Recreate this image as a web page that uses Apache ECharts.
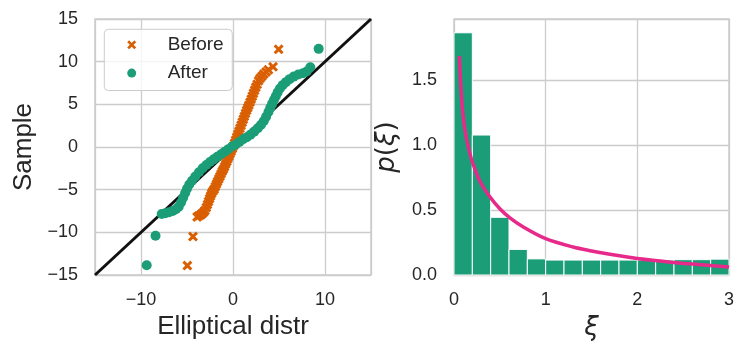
<!DOCTYPE html>
<html>
<head>
<meta charset="utf-8">
<script src="https://cdn.jsdelivr.net/npm/echarts@6/dist/echarts.min.js"></script>
<style>
  html, body { margin: 0; padding: 0; background: #ffffff; }
  #chart { width: 748px; height: 360px; }
</style>
</head>
<body>
<div id="chart"></div>
<script>
// QQ plot: [theoretical quantile, sample value]
const beforePoints = [
  [-4.96, -13.9], [-4.35, -10.5],
  [-3.9, -8.2], [-3.7, -8.05], [-3.5, -7.95], [-3.35, -7.8], [-3.2, -7.65], [-3.05, -7.45],
  [-2.9, -7.1], [-2.78, -6.75], [-2.66, -6.4], [-2.55, -6.05], [-2.44, -5.75], [-2.33, -5.45],
  [-2.2, -5.2], [-2.05, -4.95], [-1.92, -4.65], [-1.8, -4.35], [-1.68, -4.05], [-1.55, -3.75],
  [-1.42, -3.45], [-1.3, -3.15], [-1.17, -2.85], [-1.04, -2.6], [-0.92, -2.3], [-0.8, -2.0],
  [-0.68, -1.7], [-0.56, -1.4], [-0.44, -1.1], [-0.32, -0.8], [-0.2, -0.5], [-0.08, -0.2],
  [0.04, 0.1], [0.16, 0.45], [0.28, 0.8], [0.4, 1.15], [0.52, 1.5], [0.64, 1.85], [0.76, 2.2],
  [0.88, 2.55], [1.0, 2.9], [1.12, 3.25], [1.24, 3.6], [1.36, 3.95], [1.48, 4.3], [1.6, 4.6],
  [1.72, 4.9], [1.85, 5.25], [1.98, 5.6], [2.1, 5.95], [2.22, 6.3], [2.35, 6.65], [2.48, 7.0],
  [2.62, 7.35], [2.78, 7.75], [2.95, 8.05], [3.15, 8.3], [3.35, 8.55], [3.6, 8.8], [3.85, 9.05],
  [4.35, 9.4], [4.96, 11.45]
];
const afterPoints = [
  [-9.38, -13.85], [-8.42, -10.4],
  [-7.75, -7.85], [-7.35, -7.75], [-6.95, -7.65], [-6.55, -7.5], [-6.2, -7.3], [-5.9, -7.0],
  [-5.65, -6.5], [-5.42, -5.95], [-5.2, -5.4], [-5.0, -4.9], [-4.75, -4.4], [-4.45, -3.95],
  [-4.1, -3.45], [-3.7, -2.95], [-3.3, -2.5], [-2.9, -2.1], [-2.5, -1.75], [-2.1, -1.45],
  [-1.7, -1.15], [-1.3, -0.85], [-0.9, -0.55], [-0.5, -0.25], [-0.1, 0.05], [0.3, 0.3],
  [0.7, 0.6], [1.1, 0.9], [1.5, 1.15], [1.9, 1.45], [2.3, 1.8], [2.7, 2.2], [3.05, 2.6],
  [3.35, 3.05], [3.6, 3.55], [3.85, 4.1], [4.05, 4.6], [4.25, 5.05], [4.45, 5.5], [4.65, 5.95],
  [4.85, 6.4], [5.1, 6.85], [5.4, 7.25], [5.75, 7.6], [6.15, 7.95], [6.6, 8.25], [7.1, 8.5],
  [7.6, 8.65], [8.0, 8.85], [8.4, 9.35], [9.31, 11.5]
];
const refLine = [[-15, -15], [15, 15]];

// histogram
const binEdges = [0, 0.2, 0.4, 0.6, 0.8, 1.0, 1.2, 1.4, 1.6, 1.8, 2.0, 2.2, 2.4, 2.6, 2.8, 3.0];
const binHeights = [1.864, 1.077, 0.444, 0.197, 0.124, 0.115, 0.115, 0.115, 0.115, 0.115, 0.115, 0.115, 0.118, 0.118, 0.122];

// density curve
const curveX = [0.058, 0.073, 0.094, 0.123, 0.175, 0.21, 0.284, 0.393, 0.5, 0.61, 0.756, 1.0, 1.3, 1.5, 1.67, 2.0, 2.39, 2.7, 3.0];
const curveY = [1.685, 1.47, 1.26, 1.10, 0.93, 0.85, 0.72, 0.60, 0.51, 0.44, 0.37, 0.28, 0.215, 0.185, 0.163, 0.127, 0.097, 0.079, 0.062];

const textColor = '#262626';
const gridColor = '#cccccc';
const xPath = 'path://M0,2.1L2.1,0L5,2.9L7.9,0L10,2.1L7.1,5L10,7.9L7.9,10L5,7.1L2.1,10L0,7.9L2.9,5Z';

function minus(v) {
  return String(v).replace('-', '\u2212');
}

const binData = binHeights.map((h, i) => [binEdges[i], binEdges[i + 1], h]);
const curveData = curveX.map((x, i) => [x, curveY[i]]);

const myChart = echarts.init(document.getElementById('chart'));
const option = {
  animation: false,
  backgroundColor: '#ffffff',
  textStyle: { fontFamily: 'Liberation Sans, Arial, sans-serif', color: textColor },
  grid: [
    { left: 95, top: 19, width: 276, height: 256, show: true, borderColor: gridColor, borderWidth: 1.5 },
    { left: 454, top: 19, width: 275, height: 256, show: true, borderColor: gridColor, borderWidth: 1.5 }
  ],
  legend: {
    left: 104.3,
    top: 29.3,
    orient: 'vertical',
    padding: [6, 8.6, 7.9, 22.9],
    itemGap: 9.3,
    itemWidth: 9,
    itemHeight: 9,
    backgroundColor: 'rgba(255,255,255,0.8)',
    borderColor: gridColor,
    borderWidth: 1,
    borderRadius: 4,
    textStyle: { fontSize: 19, color: textColor, padding: [0, 0, 0, 26.5] },
    data: [
      { name: 'Before', icon: xPath },
      { name: 'After', icon: 'circle' }
    ]
  },
  xAxis: [
    {
      gridIndex: 0, type: 'value', min: -15, max: 15, minInterval: 10, maxInterval: 10,
      name: 'Elliptical distr', nameLocation: 'middle', nameGap: 36,
      nameTextStyle: { fontSize: 26, color: textColor },
      axisLine: { show: false }, axisTick: { show: false },
      axisLabel: {
        fontSize: 18, color: textColor, margin: 16,
        formatter: v => (Math.abs(v % 10) < 1e-9 ? minus(v) : '')
      },
      splitLine: { lineStyle: { color: gridColor, width: 1.3 } }
    },
    {
      gridIndex: 1, type: 'value', min: 0, max: 3, interval: 1,
      name: 'ξ', nameLocation: 'middle', nameGap: 40,
      nameTextStyle: { fontSize: 26, color: textColor, fontFamily: 'DejaVu Sans', fontStyle: 'italic' },
      axisLine: { show: false }, axisTick: { show: false },
      axisLabel: { fontSize: 18, color: textColor, margin: 16 },
      splitLine: { lineStyle: { color: gridColor, width: 1.3 } }
    }
  ],
  yAxis: [
    {
      gridIndex: 0, type: 'value', min: -15, max: 15, interval: 5,
      name: 'Sample', nameLocation: 'middle', nameGap: 58, nameRotate: 90,
      nameTextStyle: { fontSize: 26, color: textColor },
      axisLine: { show: false }, axisTick: { show: false },
      axisLabel: { fontSize: 18, color: textColor, margin: 17, formatter: v => minus(v) },
      splitLine: { lineStyle: { color: gridColor, width: 1.3 } }
    },
    {
      gridIndex: 1, type: 'value', min: 0, max: 1.97, interval: 0.5,
      name: '{i|p}{n|(}{i|ξ}{n|)}', nameLocation: 'middle', nameGap: 54, nameRotate: 90,
      nameTextStyle: {
        fontSize: 26, color: textColor, fontFamily: 'DejaVu Sans',
        rich: {
          i: { fontSize: 26, fontStyle: 'italic', fontFamily: 'DejaVu Sans', color: textColor },
          n: { fontSize: 26, fontFamily: 'DejaVu Sans', color: textColor }
        }
      },
      axisLine: { show: false }, axisTick: { show: false },
      axisLabel: {
        fontSize: 18, color: textColor, margin: 17,
        formatter: v => (Math.abs(v * 2 - Math.round(v * 2)) < 1e-6 ? v.toFixed(1) : '')
      },
      splitLine: { lineStyle: { color: gridColor, width: 1.3 } }
    }
  ],
  series: [
    {
      type: 'line', xAxisIndex: 0, yAxisIndex: 0, data: refLine,
      symbol: 'none', lineStyle: { color: '#111111', width: 3 }, z: 1, silent: true
    },
    {
      name: 'Before', type: 'scatter', xAxisIndex: 0, yAxisIndex: 0, data: beforePoints,
      symbol: xPath, symbolSize: 10, itemStyle: { color: '#d95f02', opacity: 1 }, z: 2
    },
    {
      name: 'After', type: 'scatter', xAxisIndex: 0, yAxisIndex: 0, data: afterPoints,
      symbol: 'circle', symbolSize: 10, itemStyle: { color: '#1b9e77', opacity: 1 }, z: 3
    },
    {
      type: 'custom', xAxisIndex: 1, yAxisIndex: 1, data: binData,
      encode: { x: [0, 1], y: 2 },
      renderItem: function (params, api) {
        const p0 = api.coord([api.value(0), api.value(2)]);
        const p1 = api.coord([api.value(1), 0]);
        return {
          type: 'rect',
          shape: { x: p0[0], y: p0[1], width: p1[0] - p0[0], height: p1[1] - p0[1] },
          style: { fill: '#1b9e77', stroke: '#ffffff', lineWidth: 1 }
        };
      },
      z: 2
    },
    {
      type: 'line', xAxisIndex: 1, yAxisIndex: 1, data: curveData,
      symbol: 'none', smooth: 0.3,
      lineStyle: { color: '#e7298a', width: 3.5 }, z: 3
    }
  ]
};
myChart.setOption(option, true);

window.addEventListener('resize', () => {
  myChart.resize();
});
</script>
</body>
</html>
